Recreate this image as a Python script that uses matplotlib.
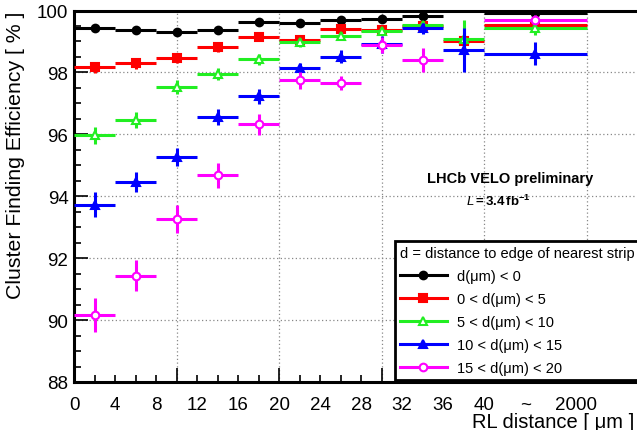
import numpy as np
import matplotlib
matplotlib.use('Agg')
import matplotlib.pyplot as plt
from matplotlib.lines import Line2D
from matplotlib.ticker import MultipleLocator

plt.rcParams['font.family'] = ['Liberation Sans', 'DejaVu Sans']
plt.rcParams['mathtext.fontset'] = 'custom'
plt.rcParams['mathtext.rm'] = 'Liberation Sans:bold'
plt.rcParams['mathtext.it'] = 'Liberation Sans:italic'
plt.rcParams['mathtext.bf'] = 'Liberation Sans:bold'

# ---- data ----
bin_lo = [0, 4, 8, 12, 16, 20, 24, 28, 32, 36, 40]
bin_hi = [4, 8, 12, 16, 20, 24, 28, 32, 36, 40, 50]

eff_d0 = [99.42, 99.37, 99.29, 99.37, 99.64, 99.59, 99.68, 99.72, 99.83, np.nan, 99.93]
err_d0 = [0.07, 0.07, 0.07, 0.07, 0.06, 0.06, 0.06, 0.06, 0.06, np.nan, 0.05]

eff_d5 = [98.17, 98.29, 98.45, 98.81, 99.13, 99.05, 99.40, 99.38, 99.51, 99.00, 99.54]
err_d5 = [0.18, 0.17, 0.16, 0.14, 0.12, 0.11, 0.10, 0.10, 0.10, 0.30, 0.10]

eff_d10 = [95.97, 96.47, 97.54, 97.94, 98.42, 98.97, 99.18, 99.33, 99.54, 99.09, 99.42]
err_d10 = [0.27, 0.26, 0.23, 0.20, 0.18, 0.15, 0.13, 0.12, 0.12, 0.60, 0.20]

eff_d15 = [93.73, 94.46, 95.27, 96.57, 97.23, 98.13, 98.51, 98.91, 99.42, 98.72, 98.61]
err_d15 = [0.40, 0.32, 0.30, 0.26, 0.24, 0.19, 0.20, 0.27, 0.19, 0.70, 0.38]

eff_d20 = [90.15, 91.44, 93.27, 94.68, 96.32, 97.75, 97.66, 98.88, 98.40, np.nan, 99.70]
err_d20 = [0.55, 0.50, 0.46, 0.40, 0.35, 0.27, 0.24, 0.25, 0.40, np.nan, 0.15]

labels = ['d(\u03bcm) < 0', '0 < d(\u03bcm) < 5', '5 < d(\u03bcm) < 10',
          '10 < d(\u03bcm) < 15', '15 < d(\u03bcm) < 20']

xtick_pos = [0, 4, 8, 12, 16, 20, 24, 28, 32, 36, 40, 44, 49]
xtick_lab = ['0', '4', '8', '12', '16', '20', '24', '28', '32', '36', '40', '~', '2000']

# ---- figure ----
W, H = 637, 431
fig = plt.figure(figsize=(W / 100, H / 100), dpi=100)
ax_h = 383 - 11.5
ax = fig.add_axes([74 / W, 48 / H, (W - 74) / W, ax_h / H])
ax.set_xlim(0, 54.9)
ax.set_ylim(88, 100)

lo = np.array(bin_lo, float)
hi = np.array(bin_hi, float)
centers = (lo + hi) / 2
halfw = (hi - lo) / 2

styles = [
    (eff_d0, err_d0, 'black', 'o', 'black'),
    (eff_d5, err_d5, '#ff0000', 's', '#ff0000'),
    (eff_d10, err_d10, '#22ee22', '^', 'white'),
    (eff_d15, err_d15, '#0000ff', '^', '#0000ff'),
    (eff_d20, err_d20, '#ff00ff', 'o', 'white'),
]

handles = []
for i, (eff, err, col, mk, mfc) in enumerate(styles):
    ax.errorbar(centers, eff, xerr=halfw, yerr=err, fmt=mk, color=col,
                mfc=mfc, mec=col, mew=1.5, ms=5.5, elinewidth=2.2, capsize=0,
                lw=0, zorder=3 + i)
    handles.append(Line2D([0], [0], color=col, marker=mk, mfc=mfc, mec=col,
                          mew=1.5, ms=5.5, lw=2.2))

ax.grid(True, which='major', linestyle=(0, (1, 2)), color='#888888', lw=0.9)
ax.set_axisbelow(True)

ax.xaxis.set_major_locator(MultipleLocator(10))
ax.xaxis.set_minor_locator(MultipleLocator(2))
ax.yaxis.set_major_locator(MultipleLocator(2))
ax.yaxis.set_minor_locator(MultipleLocator(0.5))
ax.tick_params(axis='x', which='both', direction='in', top=False, labelbottom=False)
ax.tick_params(axis='y', which='both', direction='in', right=False, labelsize=13.5, pad=4)
ax.tick_params(which='major', length=10, width=1.2)
ax.tick_params(which='minor', length=5, width=1.2)
for s in ['left', 'bottom', 'top']:
    ax.spines[s].set_linewidth(2.2)
ax.spines['right'].set_visible(False)

# x tick labels (text labels at bin edges), baseline ~410 px
xt = ax.get_xaxis_transform()
for p, l in zip(xtick_pos, xtick_lab):
    ax.text(p, -(410 - 383) / ax_h, l, transform=xt, ha='center', va='baseline',
            fontsize=13.5)

fig.text(16 / W, 1 - 11.5 / H, 'Cluster Finding Efficiency [ % ]', rotation=90,
         ha='center', va='top', fontsize=15.3)
fig.text(634 / W, 1 - 428.5 / H, 'RL distance [ \u03bcm ]', ha='right', va='baseline',
         fontsize=14.5)

fig.text(510 / W, 1 - 179 / H, 'LHCb VELO preliminary', ha='center', va='center',
         fontsize=10.5, fontweight='bold')
fig.text(498 / W, 1 - 201 / H, r'$\mathit{L}\mathbf{=3.4\,fb^{-1}}$', ha='center',
         va='center', fontsize=9.5)

leg = ax.legend(handles, labels, title='d = distance to edge of nearest strip',
                loc='upper left', bbox_to_anchor=(395 / W, 1 - 242 / H),
                bbox_transform=fig.transFigure, fontsize=10.5, title_fontsize=10.5,
                alignment='left', frameon=True, fancybox=False, edgecolor='black',
                framealpha=1, borderaxespad=0, borderpad=0.35, labelspacing=0.62,
                handlelength=3.2, handletextpad=0.7)
leg.get_frame().set_linewidth(2)
leg.set_zorder(20)

fig.savefig('out.png', dpi=100)
